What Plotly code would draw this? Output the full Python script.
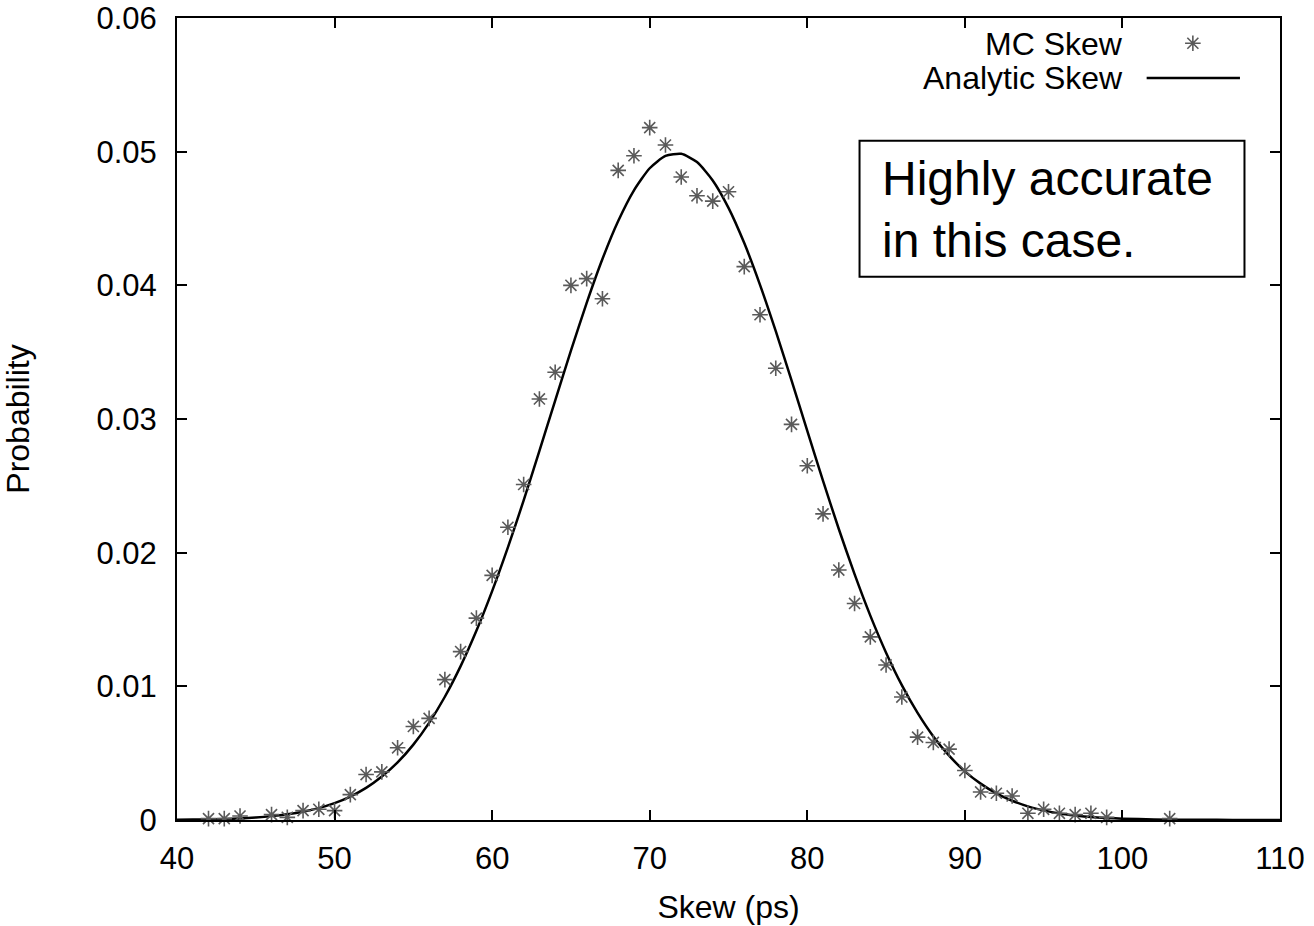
import plotly.graph_objects as go

# ---- data ----
mc_x = [42, 43, 44, 46, 47, 48, 49, 50, 51, 52, 53, 54, 55, 56, 57, 58, 59, 60,
        61, 62, 63, 64, 65, 66, 67, 68, 69, 70, 71, 72, 73, 74, 75, 76, 77, 78,
        79, 80, 81, 82, 83, 84, 85, 86, 87, 88, 89, 90, 91, 92, 93, 94, 95, 96,
        97, 98, 99, 103]
mc_y = [0.0001, 0.0001, 0.0003, 0.0004, 0.0002, 0.0007, 0.0008, 0.0007, 0.0019,
        0.0034, 0.0036, 0.0054, 0.0070, 0.0076, 0.0105, 0.0126, 0.0151, 0.0183,
        0.0219, 0.0251, 0.0315, 0.0335, 0.0400, 0.0405, 0.0390, 0.0486, 0.0497,
        0.0518, 0.0505, 0.0481, 0.0467, 0.0463, 0.0470, 0.0414, 0.0378, 0.0338,
        0.0296, 0.0265, 0.0229, 0.0187, 0.0162, 0.0137, 0.0116, 0.0092, 0.0062,
        0.0058, 0.0053, 0.0037, 0.0021, 0.0020, 0.0018, 0.0005, 0.0008, 0.0005,
        0.0004, 0.0005, 0.0002, 0.0001]

an_x = [40, 41, 42, 43, 44, 45, 46, 47, 48, 49, 50, 51, 52, 53, 54, 55, 56, 57,
        58, 59, 60, 61, 62, 63, 64, 65, 66, 67, 68, 69, 70, 71, 72, 73, 74, 75,
        76, 77, 78, 79, 80, 81, 82, 83, 84, 85, 86, 87, 88, 89, 90, 91, 92, 93,
        94, 95, 96, 97, 98, 99, 100, 102, 104, 106, 108, 110]
an_y = [0.00002, 0.00003, 0.00005, 0.00008, 0.00012, 0.00019, 0.00029, 0.00043,
        0.00062, 0.00089, 0.00126, 0.00175, 0.00240, 0.00325, 0.00431, 0.00564,
        0.00727, 0.00922, 0.01151, 0.01415, 0.01712, 0.02039, 0.02391, 0.02761,
        0.03138, 0.03512, 0.03869, 0.04197, 0.04481, 0.04711, 0.04876, 0.04968,
        0.04984, 0.04922, 0.04785, 0.04580, 0.04316, 0.04004, 0.03657, 0.03289,
        0.02911, 0.02537, 0.02177, 0.01839, 0.01529, 0.01252, 0.01009, 0.00801,
        0.00625, 0.00481, 0.00364, 0.00272, 0.00199, 0.00144, 0.00102, 0.00072,
        0.00049, 0.00034, 0.00022, 0.00015, 0.00010, 0.00004, 0.00002, 0.00001,
        0.0, 0.0]

x_ticks = [40, 50, 60, 70, 80, 90, 100, 110]
y_ticks = [0, 0.01, 0.02, 0.03, 0.04, 0.05, 0.06]
y_tick_text = ["0", "0.01", "0.02", "0.03", "0.04", "0.05", "0.06"]

FONT = "Liberation Sans, Arial, Helvetica, sans-serif"
MARKER_COLOR = "#5a5a5a"

fig = go.Figure()
fig.add_trace(go.Scatter(
    x=an_x, y=an_y, mode="lines", name="Analytic Skew",
    line=dict(color="black", width=2.5, shape="spline", smoothing=0.6),
    showlegend=False,
))
fig.add_trace(go.Scatter(
    x=mc_x, y=mc_y, mode="markers", name="MC Skew",
    marker=dict(symbol="asterisk-open", size=13, color=MARKER_COLOR,
                line=dict(width=1.6, color=MARKER_COLOR)),
    cliponaxis=False, showlegend=False,
))
# legend sample marker on an overlay (paper-like) axis
fig.add_trace(go.Scatter(
    x=[0.921], y=[0.9685], mode="markers", xaxis="x2", yaxis="y2",
    marker=dict(symbol="asterisk-open", size=13, color=MARKER_COLOR,
                line=dict(width=1.6, color=MARKER_COLOR)),
    showlegend=False, hoverinfo="skip", cliponaxis=False,
))

axis_common = dict(
    showline=True, linecolor="black", linewidth=2, mirror="ticks",
    ticks="inside", ticklen=10, tickwidth=2, tickcolor="black",
    showgrid=False, zeroline=False, ticklabeloverflow="allow", automargin=False,
    tickfont=dict(family=FONT, size=31, color="black"),
)

fig.update_layout(
    width=1314, height=926,
    margin=dict(l=177, r=34, t=18, b=106, autoexpand=False),
    paper_bgcolor="white", plot_bgcolor="white",
    font=dict(family=FONT, size=31, color="black"),
    xaxis=dict(range=[40, 110], tickvals=x_ticks,
               title=dict(text="Skew (ps)", font=dict(family=FONT, size=32), standoff=20),
               ticklabelstandoff=10, **axis_common),
    yaxis=dict(range=[0, 0.0600001], tickvals=y_ticks, ticktext=y_tick_text,
               title=dict(text="Probability", font=dict(family=FONT, size=32), standoff=60),
               ticklabelstandoff=12, **axis_common),
    xaxis2=dict(overlaying="x", range=[0, 1], visible=False),
    yaxis2=dict(overlaying="y", range=[0, 1], visible=False),
    showlegend=False,
    shapes=[
        dict(type="line", xref="paper", yref="paper", x0=0.8791, x1=0.9637,
             y0=0.9252, y1=0.9252, line=dict(color="black", width=2.5)),
        dict(type="rect", xref="paper", yref="paper", x0=0.6188, x1=0.9678,
             y0=0.6774, y1=0.8470, line=dict(color="black", width=2),
             fillcolor="white", layer="below"),
    ],
    annotations=[
        dict(text="MC Skew", xref="paper", yref="paper", x=0.8595, y=0.9676,
             xanchor="right", yanchor="middle", showarrow=False,
             font=dict(family=FONT, size=32, color="black")),
        dict(text="Analytic Skew", xref="paper", yref="paper", x=0.8595, y=0.9252,
             xanchor="right", yanchor="middle", showarrow=False,
             font=dict(family=FONT, size=32, color="black")),
        dict(text="Highly accurate<br>in this case.", xref="paper", yref="paper",
             x=0.6374, y=0.7606, xanchor="left", yanchor="middle", align="left",
             showarrow=False, font=dict(family=FONT, size=48, color="black")),
    ],
)

fig.write_html("out.html")
